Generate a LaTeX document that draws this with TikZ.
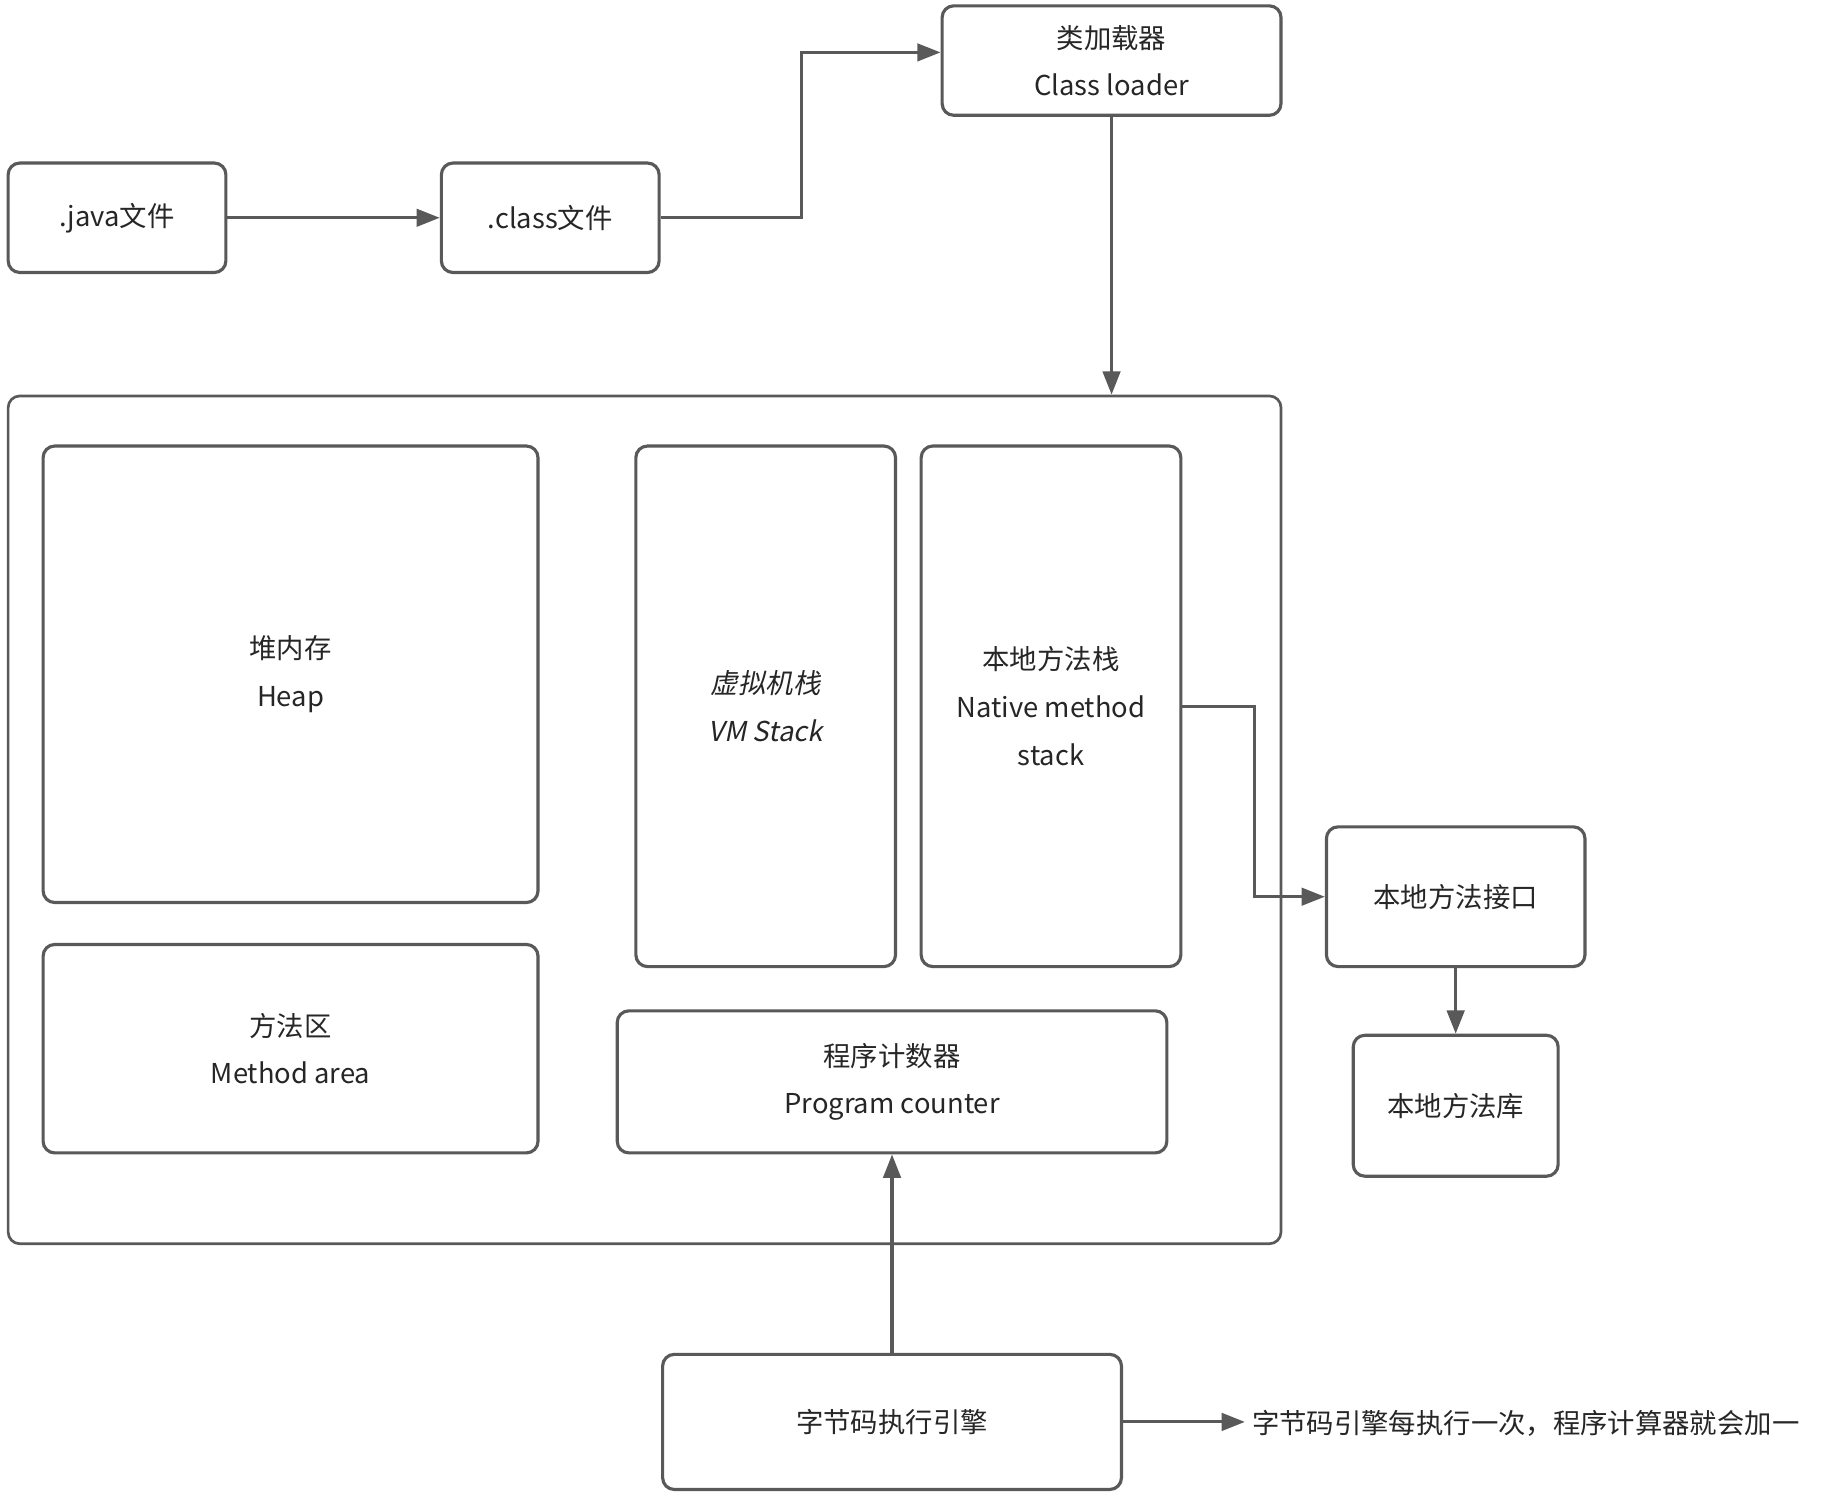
\documentclass[tikz,border=0pt]{standalone}
\usepackage{fontspec}
\setmainfont{Noto Sans CJK SC}
\newfontfamily\slfont[FakeSlant=0.2]{Noto Sans CJK SC}
\usetikzlibrary{arrows.meta}
\definecolor{lc}{HTML}{595959}
\definecolor{tc}{HTML}{262626}
\begin{document}
\begin{tikzpicture}[x=1pt,y=-1pt,
  bx/.style={draw=lc, line width=2.7pt, rounded corners=10pt, align=center, inner sep=0pt, text=tc, font=\fontsize{23.5}{41}\selectfont},
  arr/.style={draw=lc, line width=2.7pt, -{Triangle[length=20pt,width=15pt]}},
  note/.style={text=tc, inner sep=0pt, anchor=west, font=\fontsize{23.5}{41}\selectfont}]
\useasboundingbox (0,0) rectangle (1568,1288.1);
\fill[white] (0,0) rectangle (1568,1288.1);
% outer JVM box
\node[bx, line width=2.3pt, minimum width=1093pt, minimum height=728pt] (jvm) at (553.5,704) {};
% top row
\node[bx, minimum width=187pt, minimum height=94pt] (java) at (100.5,187) {.java文件};
\node[bx, minimum width=187pt, minimum height=94pt] (class) at (472.5,187) {.class文件};
\node[bx, minimum width=291pt, minimum height=94pt] (loader) at (954.5,52) {类加载器\\Class loader};
% inner boxes
\node[bx, minimum width=425pt, minimum height=392pt] (heap) at (249.5,579) {堆内存\\Heap};
\node[bx, minimum width=425pt, minimum height=179pt] (method) at (249.5,900.5) {方法区\\Method area};
\node[bx, minimum width=223pt, minimum height=447pt, font=\slfont\fontsize{23.5}{41}\selectfont] (vm) at (657.5,606.5) {虚拟机栈\\VM Stack};
\node[bx, minimum width=223pt, minimum height=447pt] (native) at (902.5,606.5) {本地方法栈\\Native method\\stack};
\node[bx, minimum width=472pt, minimum height=122pt] (pc) at (766,929) {程序计数器\\Program counter};
% right side
\node[bx, minimum width=222pt, minimum height=120pt] (nif) at (1250,770) {本地方法接口};
\node[bx, minimum width=176pt, minimum height=121pt] (nlib) at (1250,949.5) {本地方法库};
% bottom
\node[bx, minimum width=394pt, minimum height=116pt] (engine) at (766,1221) {字节码执行引擎};
\node[note] (msg) at (1075,1222) {字节码引擎每执行一次，程序计算器就会加一};
% connectors
\draw[arr] (java.east) -- (class.west);
\draw[arr] (class.east) -- ++(121,0) |- ([yshift=7pt]loader.west);
\draw[arr] (loader.south) -- (loader.south |- jvm.north);
\draw[arr] (native.east) -- ++(62,0) |- (nif.west);
\draw[arr] (nif.south) -- (nlib.north);
\draw[arr] (engine.north) -- (pc.south);
\draw[arr] (engine.east) -- ([xshift=-6pt]engine.east -| msg.west);
\end{tikzpicture}
\end{document}
